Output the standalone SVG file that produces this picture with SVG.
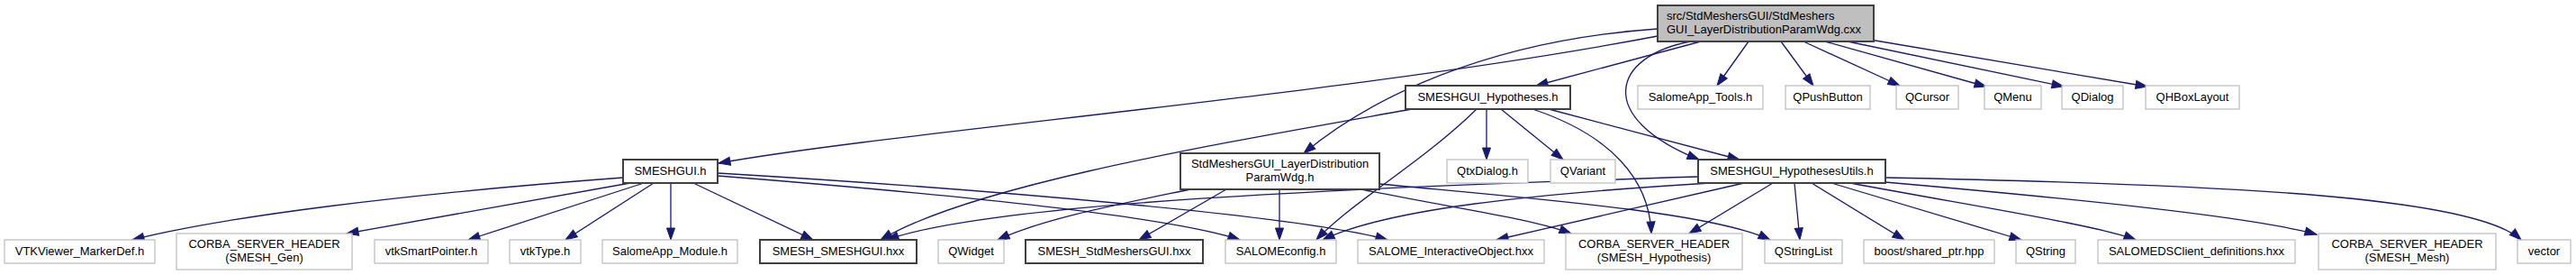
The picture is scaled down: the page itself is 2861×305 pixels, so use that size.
<svg xmlns="http://www.w3.org/2000/svg" width="2861" height="305" viewBox="0 0 2861 305">
<style>
.n rect{fill:#ffffff;stroke-width:1.3}
.b rect{stroke:#404040;stroke-width:2}
.g rect{stroke:#bfbfbf}
.r rect{fill:#bfbfbf;stroke:#404040;stroke-width:2}
text{font-family:"Liberation Sans",Arial,sans-serif;font-size:13px;fill:#000;text-anchor:middle}
.l{text-anchor:start}
#edges path{fill:none;stroke:#191970;stroke-width:1.3;marker-end:url(#ah)}
</style>
<defs>
<marker id="ah" markerUnits="userSpaceOnUse" markerWidth="14" markerHeight="10" refX="13" refY="4.5" orient="auto" overflow="visible">
<path d="M0,0 L13,4.5 L0,9 z" fill="#191970" stroke="#191970" stroke-width="1"/>
</marker>
</defs>
<rect width="2861" height="305" fill="#ffffff"/>
<g id="edges">
<path d="M1841,40 C1500,105 1000,145 798,181"/>
<path d="M1841,32 C1650,45 1520,110 1448,170"/>
<path d="M1889,46 L1706,95"/>
<path d="M1878,46 C1790,62 1770,130 1887,177"/>
<path d="M1942,46 L1907,95"/>
<path d="M1978,46 L2014,95"/>
<path d="M2003,46 L2110,95"/>
<path d="M2027,46 L2206,96"/>
<path d="M2052,46 L2292,96"/>
<path d="M2077,44 L2385,96"/>
<path d="M1568,121 C1350,160 1080,205 978,266"/>
<path d="M1640,121 C1580,180 1500,225 1462,266"/>
<path d="M1651,121 L1651,177"/>
<path d="M1667,121 L1736,177"/>
<path d="M1702,121 C1790,150 1832,200 1834,259"/>
<path d="M1720,121 L1932,177"/>
<path d="M1322,210 C1250,225 1160,242 1108,266"/>
<path d="M1362,210 L1265,266"/>
<path d="M1421,210 L1421,266"/>
<path d="M1512,210 C1620,232 1700,242 1745,259"/>
<path d="M1532,204 C1700,220 1900,235 1966,266"/>
<path d="M692,197 C450,215 250,240 147,266"/>
<path d="M700,203 L385,259"/>
<path d="M715,203 L520,266"/>
<path d="M726,203 L628,266"/>
<path d="M745,203 L745,266"/>
<path d="M770,203 L903,266"/>
<path d="M797,195 C1050,215 1300,240 1377,266"/>
<path d="M797,192 C1100,210 1450,240 1541,266"/>
<path d="M1886,196 C1500,208 1100,225 985,266"/>
<path d="M1900,203 C1700,215 1540,232 1469,266"/>
<path d="M1937,203 L1662,266"/>
<path d="M1969,203 L1876,259"/>
<path d="M1993,203 L1999,266"/>
<path d="M2012,203 L2115,266"/>
<path d="M2034,203 L2245,266"/>
<path d="M2055,203 C2200,230 2330,250 2372,266"/>
<path d="M2082,201 C2300,220 2500,240 2573,260"/>
<path d="M2094,197 C2500,205 2750,220 2800,266"/>
</g>
<g id="root" class="n r"><rect x="1841" y="6" width="240" height="40"/><text class="l" x="1851" y="22">src/StdMeshersGUI/StdMeshers</text><text class="l" x="1851" y="37">GUI_LayerDistributionParamWdg.cxx</text></g>
<g id="hyp" class="n b"><rect x="1561" y="95" width="183" height="26"/><text x="1652.5" y="112">SMESHGUI_Hypotheses.h</text></g>
<g id="salomeapp_tools" class="n g"><rect x="1819" y="95" width="139" height="26"/><text x="1888.5" y="112">SalomeApp_Tools.h</text></g>
<g id="qpushbutton" class="n g"><rect x="1983" y="95" width="94" height="26"/><text x="2030" y="112">QPushButton</text></g>
<g id="qcursor" class="n g"><rect x="2106" y="95" width="69" height="26"/><text x="2140.5" y="112">QCursor</text></g>
<g id="qmenu" class="n g"><rect x="2204" y="95" width="63" height="26"/><text x="2235.5" y="112">QMenu</text></g>
<g id="qdialog" class="n g"><rect x="2290" y="95" width="68" height="26"/><text x="2324" y="112">QDialog</text></g>
<g id="qhboxlayout" class="n g"><rect x="2383" y="95" width="104" height="26"/><text x="2435" y="112">QHBoxLayout</text></g>
<g id="smeshgui" class="n b"><rect x="692" y="177" width="105" height="26"/><text x="744.5" y="194">SMESHGUI.h</text></g>
<g id="paramwdg" class="n b"><rect x="1311" y="170" width="221" height="40"/><text x="1421.5" y="186">StdMeshersGUI_LayerDistribution</text><text x="1421.5" y="201">ParamWdg.h</text></g>
<g id="qtxdialog" class="n g"><rect x="1607" y="177" width="90" height="26"/><text x="1652" y="194">QtxDialog.h</text></g>
<g id="qvariant" class="n g"><rect x="1722" y="177" width="72" height="26"/><text x="1758" y="194">QVariant</text></g>
<g id="hyputils" class="n b"><rect x="1886" y="177" width="208" height="26"/><text x="1990" y="194">SMESHGUI_HypothesesUtils.h</text></g>
<g id="vtkviewer" class="n g"><rect x="5" y="266" width="167" height="26"/><text x="88.5" y="283">VTKViewer_MarkerDef.h</text></g>
<g id="corba_gen" class="n g"><rect x="196" y="259" width="195" height="40"/><text x="293.5" y="275">CORBA_SERVER_HEADER</text><text x="293.5" y="290">(SMESH_Gen)</text></g>
<g id="vtksmartpointer" class="n g"><rect x="416" y="266" width="126" height="26"/><text x="479" y="283">vtkSmartPointer.h</text></g>
<g id="vtktype" class="n g"><rect x="566" y="266" width="79" height="26"/><text x="605.5" y="283">vtkType.h</text></g>
<g id="salomeapp_module" class="n g"><rect x="669" y="266" width="150" height="26"/><text x="744" y="283">SalomeApp_Module.h</text></g>
<g id="smesh_smeshgui" class="n b"><rect x="844" y="266" width="174" height="26"/><text x="931" y="283">SMESH_SMESHGUI.hxx</text></g>
<g id="qwidget" class="n g"><rect x="1042" y="266" width="73" height="26"/><text x="1078.5" y="283">QWidget</text></g>
<g id="smesh_stdmeshers" class="n b"><rect x="1139" y="266" width="197" height="26"/><text x="1237.5" y="283">SMESH_StdMeshersGUI.hxx</text></g>
<g id="salomeconfig" class="n g"><rect x="1361" y="266" width="123" height="26"/><text x="1422.5" y="283">SALOMEconfig.h</text></g>
<g id="salome_io" class="n g"><rect x="1508" y="266" width="207" height="26"/><text x="1611.5" y="283">SALOME_InteractiveObject.hxx</text></g>
<g id="corba_hyp" class="n g"><rect x="1739" y="259" width="196" height="40"/><text x="1837" y="275">CORBA_SERVER_HEADER</text><text x="1837" y="290">(SMESH_Hypothesis)</text></g>
<g id="qstringlist" class="n g"><rect x="1960" y="266" width="86" height="26"/><text x="2003" y="283">QStringList</text></g>
<g id="boost" class="n g"><rect x="2070" y="266" width="145" height="26"/><text x="2142.5" y="283">boost/shared_ptr.hpp</text></g>
<g id="qstring" class="n g"><rect x="2239" y="266" width="66" height="26"/><text x="2272" y="283">QString</text></g>
<g id="salomeds" class="n g"><rect x="2330" y="266" width="219" height="26"/><text x="2439.5" y="283">SALOMEDSClient_definitions.hxx</text></g>
<g id="corba_mesh" class="n g"><rect x="2575" y="259" width="197" height="40"/><text x="2673.5" y="275">CORBA_SERVER_HEADER</text><text x="2673.5" y="290">(SMESH_Mesh)</text></g>
<g id="vector" class="n g"><rect x="2796" y="266" width="59" height="26"/><text x="2825.5" y="283">vector</text></g>
</svg>
